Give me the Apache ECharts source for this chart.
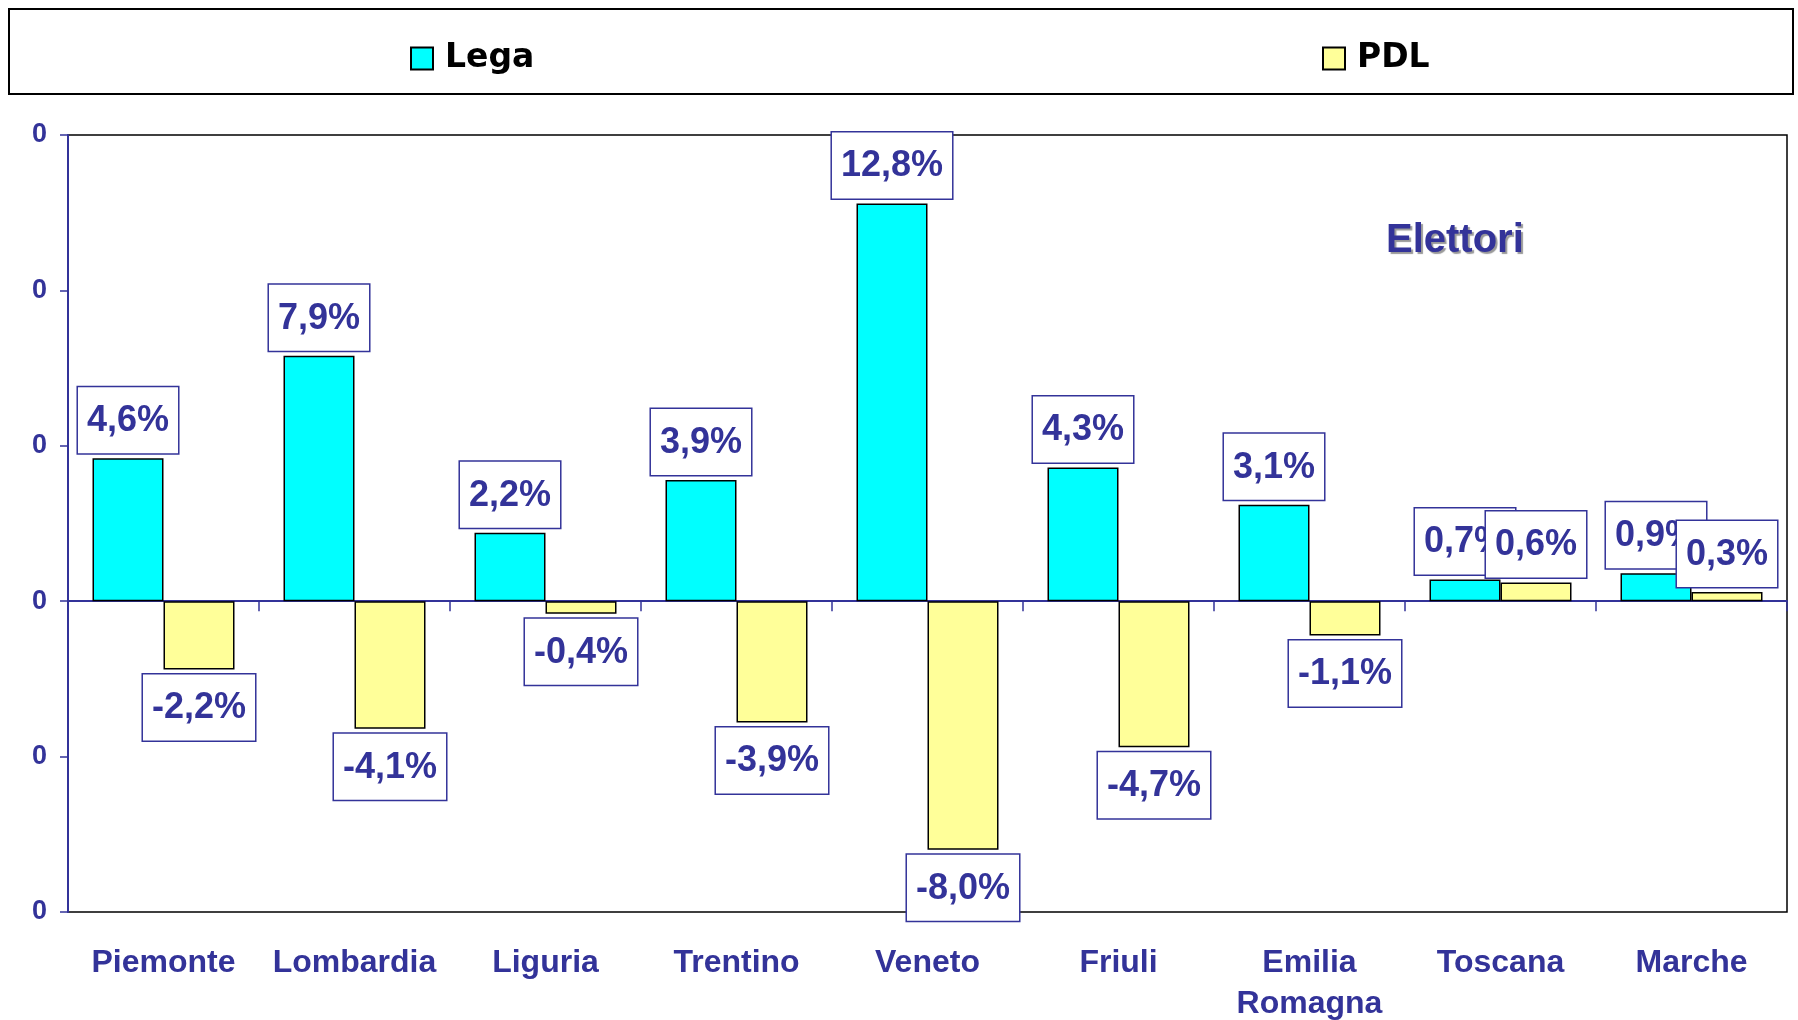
<!DOCTYPE html>
<html>
<head>
<meta charset="utf-8">
<script src="https://cdn.jsdelivr.net/npm/echarts@6/dist/echarts.min.js"></script>
<style>
  html, body { margin: 0; padding: 0; background: #fff; }
  #chart { width: 1798px; height: 1020px; }
</style>
</head>
<body>
<div id="chart"></div>
<script>
// data
var regions = ['Piemonte', 'Lombardia', 'Liguria', 'Trentino', 'Veneto', 'Friuli', 'Emilia\nRomagna', 'Toscana', 'Marche'];
var lega = [4.6, 7.9, 2.2, 3.9, 12.8, 4.3, 3.1, 0.7, 0.9];
var pdl = [-2.2, -4.1, -0.4, -3.9, -8.0, -4.7, -1.1, 0.6, 0.3];
var yTicks = [-10, -5, 0, 5, 10, 15];
var yTickLabels = ['0', '0', '0', '0', '0', '0'];

var navy = '#333399';
var font = '"Liberation Sans", Arial, sans-serif';

function pct(v) {
  return v.toFixed(1).replace('.', ',') + '%';
}

function toItems(arr) {
  return arr.map(function (v) {
    return { value: v, label: { position: v >= 0 ? 'top' : 'bottom' } };
  });
}

var barLabel = {
  show: true,
  distance: 5,
  formatter: function (p) { return pct(p.value); },
  color: navy,
  fontFamily: font,
  fontWeight: 'bold',
  fontSize: 36,
  lineHeight: 42,
  backgroundColor: '#fff',
  borderColor: navy,
  borderWidth: 1.5,
  padding: [13, 9, 11, 9]
};

var myChart = echarts.init(document.getElementById('chart'));
var option = {
  animation: false,
  title: {
    text: 'Elettori',
    left: 1381,
    top: 216,
    textStyle: {
      color: navy,
      fontFamily: font,
      fontWeight: 'bold',
      fontSize: 40,
      textShadowColor: '#999',
      textShadowOffsetX: 2,
      textShadowOffsetY: 2,
      textShadowBlur: 1
    }
  },
  graphic: [{
    type: 'rect',
    shape: { x: 9, y: 9, width: 1784, height: 85 },
    style: { fill: 'none', stroke: '#000', lineWidth: 2 }
  }],
  legend: [
    {
      data: ['Lega'], left: 405, top: 37, icon: 'rect',
      itemWidth: 22, itemHeight: 22,
      textStyle: { color: '#000', fontFamily: '"DejaVu Sans", sans-serif', fontWeight: 'bold', fontSize: 33, padding: [0, 0, 0, 7] }
    },
    {
      data: ['PDL'], left: 1317, top: 37, icon: 'rect',
      itemWidth: 22, itemHeight: 22,
      textStyle: { color: '#000', fontFamily: '"DejaVu Sans", sans-serif', fontWeight: 'bold', fontSize: 33, padding: [0, 0, 0, 7] }
    }
  ],
  grid: {
    left: 68, top: 135, right: 11, bottom: 108,
    outerBoundsMode: 'none',
    containLabel: false,
    show: true, borderColor: '#000', borderWidth: 1.5
  },
  xAxis: [
    {
      type: 'category',
      data: regions,
      position: 'bottom',
      axisLine: { onZero: true, lineStyle: { color: navy, width: 2 } },
      axisTick: { show: true, interval: 0, length: 10, lineStyle: { color: navy, width: 1.5 } },
      axisLabel: { show: false }
    },
    {
      type: 'category',
      data: regions,
      position: 'bottom',
      axisLine: { show: false, onZero: false },
      axisTick: { show: false },
      axisLabel: {
        interval: 0,
        margin: 31,
        color: navy,
        fontFamily: font,
        fontWeight: 'bold',
        fontSize: 32,
        lineHeight: 41
      }
    }
  ],
  yAxis: {
    type: 'value',
    min: yTicks[0],
    max: yTicks[yTicks.length - 1],
    interval: 5,
    splitLine: { show: false },
    axisLine: { show: true, lineStyle: { color: navy, width: 2 } },
    axisTick: { show: true, length: 8, lineStyle: { color: navy, width: 1.5 } },
    axisLabel: {
      margin: 21,
      color: navy,
      fontFamily: font,
      fontWeight: 'bold',
      fontSize: 27,
      formatter: function (v) {
        var i = yTicks.indexOf(v);
        return i >= 0 ? yTickLabels[i] : '';
      }
    }
  },
  series: [
    {
      name: 'Lega',
      type: 'bar',
      barWidth: 71,
      barGap: '0%',
      itemStyle: { color: '#00FFFF', borderColor: '#000', borderWidth: 1.5 },
      label: barLabel,
      data: toItems(lega)
    },
    {
      name: 'PDL',
      type: 'bar',
      barWidth: 71,
      barGap: '0%',
      itemStyle: { color: '#FFFF99', borderColor: '#000', borderWidth: 1.5 },
      label: barLabel,
      data: toItems(pdl)
    }
  ]
};
myChart.setOption(option);
window.addEventListener('resize', function () {
  myChart.resize();
});
</script>
</body>
</html>
